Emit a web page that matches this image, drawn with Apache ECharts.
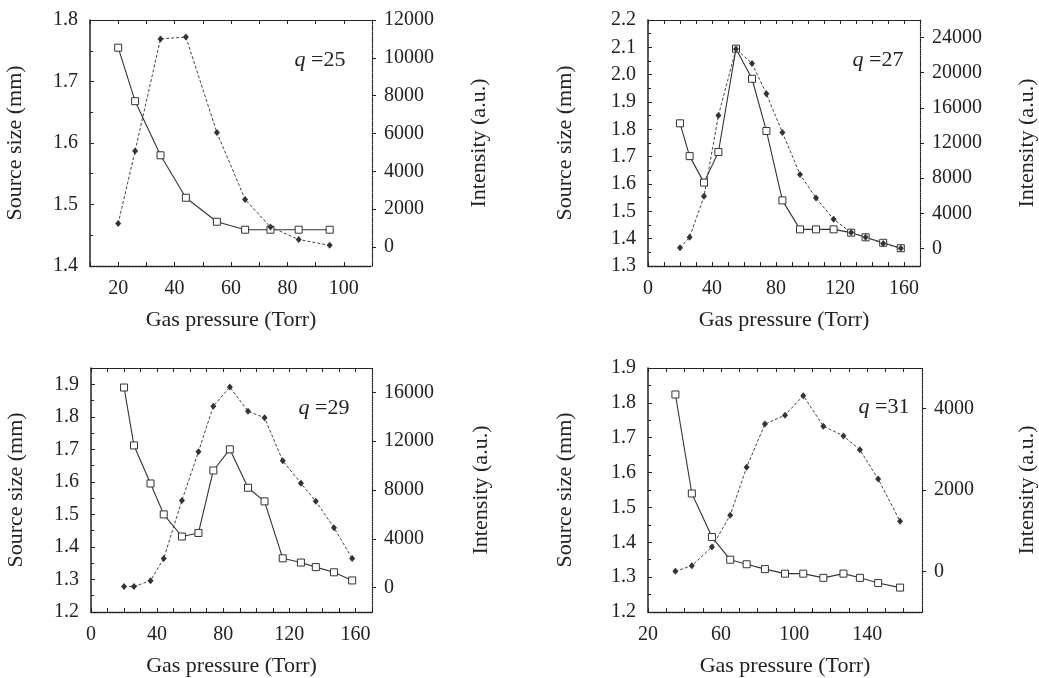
<!DOCTYPE html>
<html>
<head>
<meta charset="utf-8">
<script src="https://cdn.jsdelivr.net/npm/echarts@6/dist/echarts.min.js"></script>
<style>
  html, body { margin: 0; padding: 0; background: #fff; }
  #chart { width: 1039px; height: 678px; }
</style>
</head>
<body>
<div id="chart"></div>
<script>
// panel 1: q = 25
const p1Pressure = [20, 26, 35, 44, 55, 65, 74, 84, 95];
const p1Size = [1.755, 1.668, 1.58, 1.511, 1.472, 1.459, 1.459, 1.459, 1.459];
const p1Intensity = [1250, 5080, 11000, 11100, 6050, 2520, 1060, 400, 90];
const p1PressureTicks = [20, 40, 60, 80, 100];
const p1SizeTicks = [1.4, 1.5, 1.6, 1.7, 1.8];
const p1IntensityTicks = [0, 2000, 4000, 6000, 8000, 10000, 12000];

// panel 2: q = 27
const p2Pressure = [20, 26, 35, 44, 55, 65, 74, 84, 95, 105, 116, 127, 136, 147, 158];
const p2Size = [1.822, 1.702, 1.605, 1.717, 2.095, 1.985, 1.794, 1.54, 1.434, 1.434, 1.434, 1.422, 1.405, 1.385, 1.365];
const p2Intensity = [80, 1260, 5930, 15120, 22700, 21050, 17600, 13200, 8420, 5740, 3330, 1800, 1260, 570, 30];
const p2PressureTicks = [0, 40, 80, 120, 160];
const p2SizeTicks = [1.3, 1.4, 1.5, 1.6, 1.7, 1.8, 1.9, 2.0, 2.1, 2.2];
const p2IntensityTicks = [0, 4000, 8000, 12000, 16000, 20000, 24000];

// panel 3: q = 29
const p3Pressure = [20, 26, 36, 44, 55, 65, 74, 84, 95, 105, 116, 127, 136, 147, 158];
const p3Size = [1.89, 1.712, 1.595, 1.5, 1.432, 1.443, 1.635, 1.70, 1.582, 1.54, 1.365, 1.352, 1.338, 1.322, 1.297];
const p3Intensity = [80, 80, 570, 2390, 7140, 11130, 14870, 16440, 14460, 13920, 10390, 8550, 7080, 4910, 2390];
const p3PressureTicks = [0, 40, 80, 120, 160];
const p3SizeTicks = [1.2, 1.3, 1.4, 1.5, 1.6, 1.7, 1.8, 1.9];
const p3IntensityTicks = [0, 4000, 8000, 12000, 16000];

// panel 4: q = 31
const p4Pressure = [35, 44, 55, 65, 74, 84, 95, 105, 116, 127, 136, 146, 158];
const p4Size = [1.824, 1.54, 1.415, 1.35, 1.337, 1.323, 1.31, 1.31, 1.298, 1.31, 1.298, 1.283, 1.27];
const p4Intensity = [0, 140, 600, 1380, 2560, 3620, 3840, 4320, 3570, 3330, 2990, 2270, 1230];
const p4PressureTicks = [20, 60, 100, 140];
const p4SizeTicks = [1.2, 1.3, 1.4, 1.5, 1.6, 1.7, 1.8, 1.9];
const p4IntensityTicks = [0, 2000, 4000];

const ink = '#222';
const font = 'Liberation Serif';
const tickFont = {fontFamily: font, fontSize: 20, color: ink};
const nameFont = {fontFamily: font, fontSize: 22, color: ink};

const panels = [
    {q: 25, box: [90, 20, 282, 246], qPos: [320, 60],
     x: p1Pressure, size: p1Size, inten: p1Intensity,
     xRange: [10, 110], sRange: [1.4, 1.8], iRange: [-1000, 12000],
     xTicks: p1PressureTicks, sTicks: p1SizeTicks, iTicks: p1IntensityTicks, leftGap: 64, rightGap: 96},
    {q: 27, box: [648, 20, 283, 246], qPos: [878, 60],
     x: p2Pressure, size: p2Size, inten: p2Intensity,
     xRange: [0, 170], sRange: [1.3, 2.2], iRange: [-2000, 26000],
     xTicks: p2PressureTicks, sTicks: p2SizeTicks, iTicks: p2IntensityTicks, leftGap: 72, rightGap: 96},
    {q: 29, box: [91, 368, 281, 245], qPos: [324, 408],
     x: p3Pressure, size: p3Size, inten: p3Intensity,
     xRange: [0, 170], sRange: [1.2, 1.95], iRange: [-2000, 18000],
     xTicks: p3PressureTicks, sTicks: p3SizeTicks, iTicks: p3IntensityTicks, leftGap: 64, rightGap: 98},
    {q: 31, box: [648, 368, 283, 245], qPos: [884, 407],
     x: p4Pressure, size: p4Size, inten: p4Intensity,
     xRange: [20, 170], sRange: [1.2, 1.9], iRange: [-1000, 5000],
     xTicks: p4PressureTicks, sTicks: p4SizeTicks, iTicks: p4IntensityTicks, leftGap: 72, rightGap: 94}
];

const zip = (a, b) => a.map((v, i) => [v, b[i]]);

const option = {
    animation: false,
    backgroundColor: '#fff',
    grid: [], xAxis: [], yAxis: [], series: [], graphic: []
};

panels.forEach((p, k) => {
    option.grid.push({left: p.box[0], top: p.box[1], width: p.box[2], height: p.box[3]});
    // bottom axis
    option.xAxis.push({
        gridIndex: k, type: 'value', position: 'bottom',
        min: p.xRange[0], max: p.xRange[1], interval: 10,
        axisLine: {onZero: false, lineStyle: {color: ink, width: 1.3, type: [2, 1]}},
        axisTick: {inside: true, length: 4, lineStyle: {color: ink}},
        axisLabel: {customValues: p.xTicks, formatter: v => String(v), margin: 13, ...tickFont},
        splitLine: {show: false},
        name: 'Gas pressure (Torr)', nameLocation: 'middle', nameGap: 43, nameTextStyle: nameFont
    });
    // top mirror
    option.xAxis.push({
        gridIndex: k, type: 'value', position: 'top',
        min: p.xRange[0], max: p.xRange[1], interval: 10,
        axisLine: {onZero: false, lineStyle: {color: ink, width: 1.2}},
        axisTick: {inside: true, length: 4, lineStyle: {color: ink}},
        axisLabel: {show: false}, splitLine: {show: false}
    });
    // left: source size
    option.yAxis.push({
        gridIndex: k, type: 'value', position: 'left',
        min: p.sRange[0], max: p.sRange[1], interval: 0.1,
        axisLine: {onZero: false, lineStyle: {color: ink, width: 1.5}},
        axisTick: {inside: true, length: 4, lineStyle: {color: ink}},
        minorTick: {show: true, splitNumber: 2, length: 3, lineStyle: {color: ink}},
        axisLabel: {customValues: p.sTicks, formatter: v => v.toFixed(1), margin: 12, ...tickFont},
        splitLine: {show: false},
        name: 'Source size (mm)', nameLocation: 'middle', nameRotate: 90, nameGap: p.leftGap, nameTextStyle: nameFont
    });
    // right: intensity
    option.yAxis.push({
        gridIndex: k, type: 'value', position: 'right',
        min: p.iRange[0], max: p.iRange[1],
        axisLine: {onZero: false, lineStyle: {color: ink, width: 1.2, type: 'dotted'}},
        axisTick: {customValues: p.iTicks, inside: false, length: 4, lineStyle: {color: ink}},
        axisLabel: {customValues: p.iTicks, formatter: v => String(v), margin: 12, ...tickFont},
        splitLine: {show: false},
        name: 'Intensity (a.u.)', nameLocation: 'middle', nameRotate: 90, nameGap: p.rightGap, nameTextStyle: nameFont
    });
    option.series.push({
        type: 'line', xAxisIndex: 2 * k, yAxisIndex: 2 * k,
        data: zip(p.x, p.size),
        symbol: 'rect', symbolSize: 7,
        itemStyle: {color: '#fff', borderColor: '#333', borderWidth: 1},
        lineStyle: {color: '#333', width: 1.1}
    });
    option.series.push({
        type: 'line', xAxisIndex: 2 * k, yAxisIndex: 2 * k + 1,
        data: zip(p.x, p.inten),
        symbol: 'diamond', symbolSize: [6, 7],
        itemStyle: {color: '#333'},
        lineStyle: {color: '#444', width: 1, type: [3, 2]}
    });
    option.graphic.push({
        type: 'text', x: p.qPos[0], y: p.qPos[1],
        style: {
            text: '{i|q} =' + p.q, fontFamily: font, fontSize: 22, fill: ink,
            align: 'center', verticalAlign: 'middle',
            rich: {i: {fontStyle: 'italic', fontFamily: font, fontSize: 22}}
        }
    });
});

const chart = echarts.init(document.getElementById('chart'));
chart.setOption(option);
</script>
</body>
</html>
